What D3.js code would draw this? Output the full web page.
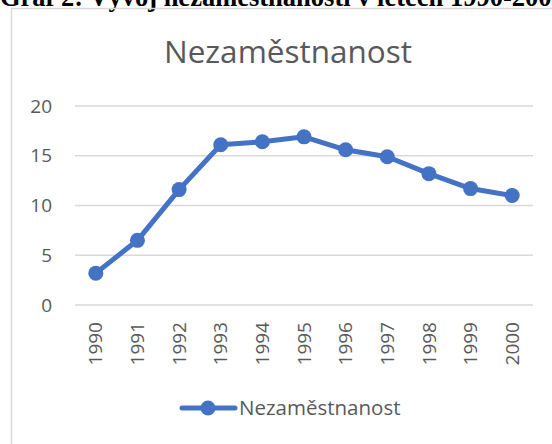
<!DOCTYPE html>
<html>
<head>
<meta charset="utf-8">
<script src="https://cdn.jsdelivr.net/npm/d3@7"></script>
<style>
  body { margin: 0; background: #fff; }
  svg { display: block; }
</style>
</head>
<body>
<div id="chart"></div>
<script>
// data
let years = ['1990','1991','1992','1993','1994','1995','1996','1997','1998','1999','2000']
let unemployment = [3.2, 6.5, 11.6, 16.1, 16.4, 16.9, 15.6, 14.9, 13.2, 11.7, 11.0]
let yTicks = [0, 5, 10, 15, 20]
let seriesName = 'Nezaměstnanost'
let caption = 'Graf 2: Vývoj nezaměstnanosti v letech 1990-2000'

let width = 552,
    height = 444

let svg = d3.select('#chart').append('svg')
    .attr('width', width)
    .attr('height', height)

let textColor = '#595959',
    gridColor = '#d9d9d9',
    lineColor = '#4472c4',
    font = "'Open Sans', sans-serif"

// caption above the chart, cut off at the top like in the source
svg.append('text')
    .attr('x', 0)
    .attr('y', 6)
    .attr('font-family', "'Liberation Serif', 'Times New Roman', serif")
    .attr('font-weight', 'bold')
    .attr('font-size', 26.5)
    .attr('fill', '#000')
    .text(caption)

// chart frame (only left and top edges visible)
svg.append('path')
    .attr('d', 'M11.5,444 V8.5 H552')
    .attr('fill', 'none')
    .attr('stroke', gridColor)
    .attr('stroke-width', 1.5)

let x = d3.scaleBand()
    .domain(years)
    .range([75, 533])

let y = d3.scaleLinear()
    .domain([0, 20])
    .range([305, 106])

// title
svg.append('text')
    .attr('x', 288)
    .attr('y', 63)
    .attr('text-anchor', 'middle')
    .attr('font-family', font)
    .attr('font-size', 31.5)
    .attr('fill', textColor)
    .text(seriesName)

// gridlines
svg.append('g')
    .selectAll('line')
    .data(yTicks)
    .enter().append('line')
    .attr('x1', x.range()[0])
    .attr('x2', x.range()[1])
    .attr('y1', d => y(d))
    .attr('y2', d => y(d))
    .attr('stroke', gridColor)
    .attr('stroke-width', 1.5)

// y labels
svg.append('g')
    .selectAll('text')
    .data(yTicks)
    .enter().append('text')
    .attr('x', 52)
    .attr('y', d => y(d))
    .attr('dy', '0.35em')
    .attr('text-anchor', 'end')
    .attr('font-family', font)
    .attr('font-size', 19)
    .attr('fill', textColor)
    .text(d => d)

// x labels, rotated
svg.append('g')
    .selectAll('text')
    .data(years)
    .enter().append('text')
    .attr('transform', d => `translate(${x(d) + x.bandwidth() / 2},322) rotate(-90)`)
    .attr('dy', '0.35em')
    .attr('text-anchor', 'end')
    .attr('font-family', font)
    .attr('font-size', 19)
    .attr('fill', textColor)
    .text(d => d)

// the series
let cx = (d, i) => x(years[i]) + x.bandwidth() / 2

let line = d3.line()
    .x(cx)
    .y(d => y(d))

svg.append('path')
    .datum(unemployment)
    .attr('d', line)
    .attr('fill', 'none')
    .attr('stroke', lineColor)
    .attr('stroke-width', 5)
    .attr('stroke-linejoin', 'round')

svg.append('g')
    .selectAll('circle')
    .data(unemployment)
    .enter().append('circle')
    .attr('cx', cx)
    .attr('cy', d => y(d))
    .attr('r', 7.5)
    .attr('fill', lineColor)

// legend
let legend = svg.append('g')
legend.append('line')
    .attr('x1', 182)
    .attr('x2', 235)
    .attr('y1', 408)
    .attr('y2', 408)
    .attr('stroke', lineColor)
    .attr('stroke-width', 5)
    .attr('stroke-linecap', 'round')
legend.append('circle')
    .attr('cx', 208)
    .attr('cy', 408)
    .attr('r', 7.5)
    .attr('fill', lineColor)
legend.append('text')
    .attr('x', 239)
    .attr('y', 408)
    .attr('dy', '0.35em')
    .attr('font-family', font)
    .attr('font-size', 20.5)
    .attr('fill', textColor)
    .text(seriesName)
</script>
</body>
</html>
